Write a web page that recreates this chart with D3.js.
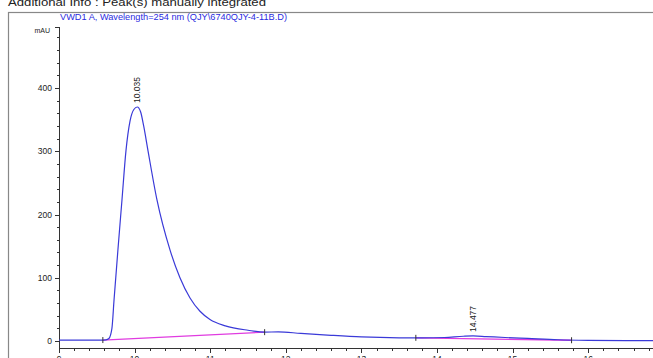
<!DOCTYPE html>
<html><head><meta charset="utf-8">
<script src="https://cdn.jsdelivr.net/npm/d3@7"></script>
<style>
html,body{margin:0;padding:0;background:#fff;overflow:hidden}
svg{display:block}
text{font-family:"Liberation Sans",Arial,sans-serif}
</style></head>
<body>
<script>
// ---- data ----
const signalTimes  = [9.0, 9.3, 9.55, 9.62, 9.66, 9.70, 9.728, 9.78, 9.833, 9.886, 9.94, 9.99, 10.035, 10.08, 10.12, 10.177, 10.296, 10.468, 10.6, 10.733, 10.865, 10.997, 11.2, 11.5, 11.72, 11.9, 12.2, 12.6, 13.0, 13.5, 13.8, 14.1, 14.35, 14.477, 14.65, 14.9, 15.2, 15.6, 16.0, 16.5, 17.0];
const signalValues = [1.5, 1.5, 1.5, 1.8, 4, 20, 65, 145, 223, 301, 348, 366, 370, 362, 340, 301, 223, 144, 100, 68, 47, 34, 24, 17, 14, 14.5, 12, 9, 6.5, 5, 4.8, 5.5, 7.5, 8, 7, 5.5, 4, 2, 1, 0.5, 0.5];
const baselines = [
  {t0: 9.58, v0: 1.5, t1: 11.72, v1: 14},
  {t0: 13.72, v0: 5, t1: 15.78, v1: 1.2}
];
const peakLabels = [{t: 10.035, v: 370, label: "10.035"}, {t: 14.477, v: 8, label: "14.477"}];
const xTicks = [9, 10, 11, 12, 13, 14, 15, 16, 17];
const yTicks = [0, 100, 200, 300, 400];
const headerText = "Additional Info : Peak(s) manually integrated";
const signalTitle = "VWD1 A, Wavelength=254 nm (QJY\\6740QJY-4-11B.D)";
const yUnit = "mAU";

// ---- layout ----
const W = 653, H = 358;
const svg = d3.select("body").append("svg").attr("width", W).attr("height", H);

const x = d3.scaleLinear().domain([9, 17]).range([59, 59 + 8 * 75.6]);
const y = d3.scaleLinear().domain([0, 400]).range([341, 88]);

// header
svg.append("text").attr("x", 8).attr("y", 6)
  .attr("font-family", "DejaVu Sans Mono, monospace").attr("font-size", 10.5)
  .attr("fill", "#222").attr("textLength", 258).attr("lengthAdjust", "spacingAndGlyphs")
  .text(headerText);

// frame
svg.append("rect").attr("x", 8.5).attr("y", 12.5).attr("width", W + 20).attr("height", H + 20)
  .attr("fill", "none").attr("stroke", "#888").attr("stroke-width", 1.2);

// signal title
svg.append("text").attr("x", 60).attr("y", 20).attr("font-size", 8.5).attr("fill", "#2a2ae0")
  .attr("textLength", 227).attr("lengthAdjust", "spacingAndGlyphs").text(signalTitle);

// y axis
const yTop = 27;
const yAxisG = svg.append("g");
yAxisG.append("line").attr("x1", 59.5).attr("x2", 59.5).attr("y1", yTop).attr("y2", 348)
  .attr("stroke", "#333").attr("stroke-width", 1);
yAxisG.append("line").attr("x1", 55).attr("x2", 59.5).attr("y1", yTop + 0.5).attr("y2", yTop + 0.5)
  .attr("stroke", "#333");
const yMinor = d3.range(0, 481, 20);
yAxisG.selectAll("line.ymin").data(yMinor).join("line").attr("class", "ymin")
  .attr("x1", d => d % 100 === 0 ? 55 : 57).attr("x2", 59.5)
  .attr("y1", d => Math.round(y(d)) + 0.5).attr("y2", d => Math.round(y(d)) + 0.5)
  .attr("stroke", "#333");
yAxisG.selectAll("text.yl").data(yTicks).join("text").attr("class", "yl")
  .attr("x", 52).attr("y", d => y(d) + 3).attr("text-anchor", "end")
  .attr("font-size", 8.5).attr("fill", "#222").text(d => d);
svg.append("text").attr("x", 50).attr("y", 33).attr("text-anchor", "end")
  .attr("font-size", 7).attr("fill", "#222").text(yUnit);

// x axis
const xAxisY = 348;
const xAxisG = svg.append("g");
xAxisG.append("line").attr("x1", 59).attr("x2", W).attr("y1", xAxisY + 0.5).attr("y2", xAxisY + 0.5)
  .attr("stroke", "#333");
const xMinor = d3.range(0, 41).map(i => 9 + i * 0.2);
xAxisG.selectAll("line.xmin").data(xMinor).join("line").attr("class", "xmin")
  .attr("x1", d => Math.round(x(d)) + 0.5).attr("x2", d => Math.round(x(d)) + 0.5)
  .attr("y1", xAxisY).attr("y2", d => Math.abs(d - Math.round(d)) < 1e-6 ? xAxisY + 5 : xAxisY + 3)
  .attr("stroke", "#333");
xAxisG.selectAll("text.xl").data(xTicks).join("text").attr("class", "xl")
  .attr("x", d => x(d)).attr("y", 362).attr("text-anchor", "middle")
  .attr("font-size", 8.5).attr("fill", "#222").text(d => d);

// baselines
svg.selectAll("line.base").data(baselines).join("line").attr("class", "base")
  .attr("x1", d => x(d.t0)).attr("y1", d => y(d.v0)).attr("x2", d => x(d.t1)).attr("y2", d => y(d.v1))
  .attr("stroke", "#e03ce0").attr("stroke-width", 1.3);

// signal
const pts = signalTimes.map((t, i) => [t, signalValues[i]]);
svg.append("path").datum(pts)
  .attr("d", d3.line().x(d => x(d[0])).y(d => y(d[1])).curve(d3.curveMonotoneX))
  .attr("fill", "none").attr("stroke", "#3a3ad8").attr("stroke-width", 1.2);

// integration markers
const markers = [];
baselines.forEach(b => { markers.push([b.t0, b.v0]); markers.push([b.t1, b.v1]); });
svg.selectAll("line.mk").data(markers).join("line").attr("class", "mk")
  .attr("x1", d => x(d[0])).attr("x2", d => x(d[0]))
  .attr("y1", d => y(d[1]) - 3).attr("y2", d => y(d[1]) + 3)
  .attr("stroke", "#333").attr("stroke-width", 1);

// peak labels
svg.selectAll("text.pk").data(peakLabels).join("text").attr("class", "pk")
  .attr("transform", d => `translate(${x(d.t) + 3},${y(d.v) - 4}) rotate(-90)`)
  .attr("font-size", 8.5).attr("fill", "#222").text(d => d.label);
</script>
</body></html>
